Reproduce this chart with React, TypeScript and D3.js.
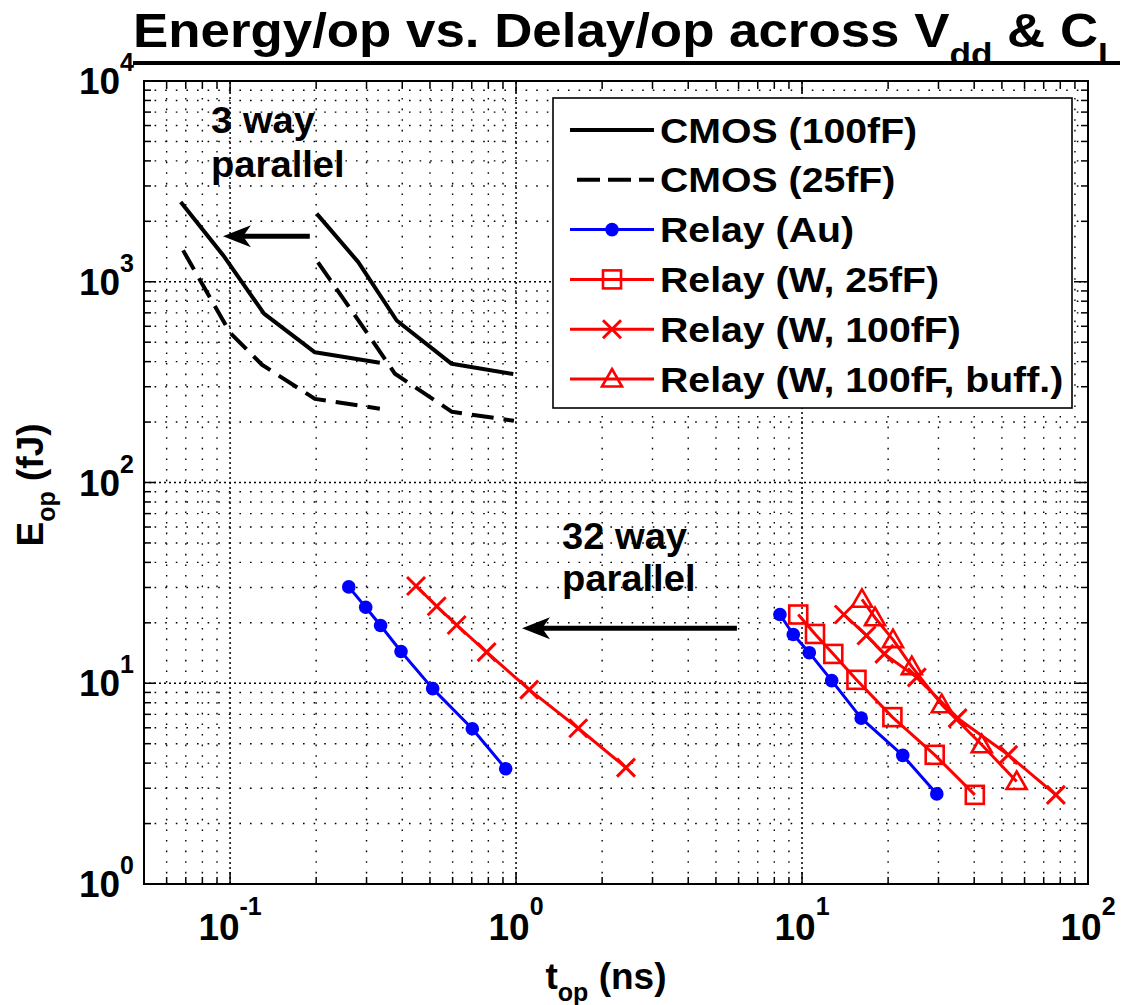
import React, { useEffect, useRef } from 'react';
import * as d3 from 'd3';

const W = 1124;
const H = 1005;
const FONT = "'Liberation Sans', Arial, Helvetica, sans-serif";

// axes
const xDomain: [number, number] = [0.05, 100];
const yDomain: [number, number] = [1, 10000];
const xMajorTicks = [0.1, 1, 10, 100];
const xTickExps = ['-1', '0', '1', '2'];
const yMajorTicks = [1, 10, 100, 1000, 10000];
const yTickExps = ['0', '1', '2', '3', '4'];

// CMOS (100fF) — 1 way and 3 way parallel
const cmos100OneWayT = [0.2008, 0.2807, 0.3825, 0.5955, 0.978];
const cmos100OneWayE = [2185, 1253, 641, 390, 347];
const cmos100ThreeWayT = [0.0672, 0.0952, 0.1314, 0.198, 0.334];
const cmos100ThreeWayE = [2497, 1338, 694, 445, 395];
// CMOS (25fF)
const cmos25OneWayT = [0.2029, 0.2845, 0.3773, 0.5968, 0.983];
const cmos25OneWayE = [1249, 626, 348, 225, 203];
const cmos25ThreeWayT = [0.0685, 0.0999, 0.1293, 0.198, 0.334];
const cmos25ThreeWayE = [1433, 558, 386, 261, 233];

// Relay (Au)
const relayAuT = [8.37, 9.32, 10.6, 12.7, 16.1, 22.5, 29.6];
const relayAuE = [22.0, 17.5, 14.2, 10.3, 6.7, 4.37, 2.81];
const relayAu32T = [0.26, 0.298, 0.336, 0.396, 0.511, 0.703, 0.92];
const relayAu32E = [30.2, 23.9, 19.4, 14.4, 9.4, 5.93, 3.75];
// Relay (W, 25fF)
const relayW25T = [9.7, 11.1, 12.86, 15.5, 20.7, 29.1, 40.2];
const relayW25E = [22.0, 17.6, 14.0, 10.4, 6.78, 4.4, 2.78];
// Relay (W, 100fF)
const relayW100T = [14.0, 16.8, 19.4, 25.2, 35.0, 52.6, 77.2];
const relayW100E = [22.0, 17.3, 14.0, 10.7, 6.7, 4.4, 2.78];
const relayW100x32T = [0.447, 0.528, 0.62, 0.789, 1.112, 1.65, 2.423];
const relayW100x32E = [30.5, 24.2, 19.5, 14.3, 9.29, 5.97, 3.8];
// Relay (W, 100fF, buff.)
const relayWbufT = [16.2, 18.0, 20.8, 24.2, 30.8, 42.5, 56.3];
const relayWbufE = [26.2, 21.2, 16.5, 12.1, 7.82, 4.94, 3.24];

// legend
const legendLabels = [
  'CMOS (100fF)',
  'CMOS (25fF)',
  'Relay (Au)',
  'Relay (W, 25fF)',
  'Relay (W, 100fF)',
  'Relay (W, 100fF, buff.)',
];

// annotations (data coords)
const annot3Lines = ['3 way', 'parallel'];
const annot3X = 0.0858;
const annot3Y = [5500, 3317];
const annot32Lines = ['32 way', 'parallel'];
const annot32X = 1.447;
const annot32Y = [46.6, 28.8];
const arrow3 = { t0: 0.19, t1: 0.0944, e: 1683 };
const arrow32 = { t0: 5.92, t1: 1.049, e: 18.8 };

type Style = { color: string; width: number; dash?: string; marker?: string };

export default function App() {
  const ref = useRef<SVGSVGElement>(null);

  useEffect(() => {
    const svg = d3.select(ref.current!);
    svg.selectAll('*').remove();

    const X0 = 144, X1 = 1088, Y0 = 884, Y1 = 81;
    const x = d3.scaleLog().domain(xDomain).range([X0, X1]);
    const y = d3.scaleLog().domain(yDomain).range([Y0, Y1]);

    svg.append('rect').attr('width', W).attr('height', H).attr('fill', '#fff');

    // minor & major values
    const xMinor: number[] = [];
    for (const dec of [0.01, 0.1, 1, 10]) for (let k = 2; k <= 9; k++) {
      const v = k * dec;
      if (v > 0.05 + 1e-9 && v < 100) xMinor.push(v);
    }
    const yMinor: number[] = [];
    for (const dec of [1, 10, 100, 1000]) for (let k = 2; k <= 9; k++) yMinor.push(k * dec);
    const xMajorIn = [0.1, 1, 10];
    const yMajorIn = [10, 100, 1000];

    const grid = svg.append('g').attr('stroke', '#000').attr('fill', 'none');
    grid.selectAll('line.xm').data(xMinor).join('line')
      .attr('x1', d => x(d)).attr('x2', d => x(d)).attr('y1', Y0).attr('y2', Y1)
      .attr('stroke-width', 1.4).attr('stroke-dasharray', '1.6,9');
    grid.selectAll('line.ym').data(yMinor).join('line')
      .attr('y1', d => y(d)).attr('y2', d => y(d)).attr('x1', X0).attr('x2', X1)
      .attr('stroke-width', 1.4).attr('stroke-dasharray', '1.6,9');
    grid.selectAll('line.xM').data(xMajorIn).join('line')
      .attr('x1', d => x(d)).attr('x2', d => x(d)).attr('y1', Y0).attr('y2', Y1)
      .attr('stroke-width', 1.5).attr('stroke-dasharray', '2,3');
    grid.selectAll('line.yM').data(yMajorIn).join('line')
      .attr('y1', d => y(d)).attr('y2', d => y(d)).attr('x1', X0).attr('x2', X1)
      .attr('stroke-width', 1.5).attr('stroke-dasharray', '2,3');

    // ticks (inward, all four sides)
    const ticks = svg.append('g').attr('stroke', '#000').attr('stroke-width', 1.5);
    const tickSets: [number[], number][] = [[xMinor, 7], [xMajorIn, 12]];
    for (const [vals, len] of tickSets) {
      vals.forEach(v => {
        ticks.append('line').attr('x1', x(v)).attr('x2', x(v)).attr('y1', Y0).attr('y2', Y0 - len);
        ticks.append('line').attr('x1', x(v)).attr('x2', x(v)).attr('y1', Y1).attr('y2', Y1 + len);
      });
    }
    const yTickSets: [number[], number][] = [[yMinor, 7], [yMajorIn, 12]];
    for (const [vals, len] of yTickSets) {
      vals.forEach(v => {
        ticks.append('line').attr('y1', y(v)).attr('y2', y(v)).attr('x1', X0).attr('x2', X0 + len);
        ticks.append('line').attr('y1', y(v)).attr('y2', y(v)).attr('x1', X1).attr('x2', X1 - len);
      });
    }

    // annotations text (slightly widened like the original bitmap font)
    const annot = svg.append('g').attr('font-family', FONT).attr('font-weight', 'bold')
      .attr('font-size', 36).attr('fill', '#000');
    const putText = (px: number, py: number, s: string) =>
      annot.append('text').attr('transform', `translate(${px},${py}) scale(1.06,1)`).text(s);
    annot3Lines.forEach((s, i) => putText(x(annot3X), y(annot3Y[i]), s));
    annot32Lines.forEach((s, i) => putText(x(annot32X), y(annot32Y[i]), s));

    // arrows
    const drawArrow = (a: { t0: number; t1: number; e: number }) => {
      const xt = x(a.t0), xh = x(a.t1), yy = y(a.e);
      const L = 28, hw = 11;
      svg.append('line').attr('x1', xt).attr('x2', xh + L * 0.6).attr('y1', yy).attr('y2', yy)
        .attr('stroke', '#000').attr('stroke-width', 5);
      svg.append('path')
        .attr('d', `M${xh},${yy} L${xh + L},${yy - hw} L${xh + L * 0.72},${yy} L${xh + L},${yy + hw} Z`)
        .attr('fill', '#000');
    };
    drawArrow(arrow3);
    drawArrow(arrow32);

    // series
    const line = d3.line<[number, number]>().x(d => x(d[0])).y(d => y(d[1]));
    const zip = (t: number[], e: number[]) => t.map((v, i) => [v, e[i]] as [number, number]);

    const cmosSolid: Style = { color: '#000', width: 4 };
    const cmosDash: Style = { color: '#000', width: 4, dash: '22,10' };
    const blue: Style = { color: '#0000ff', width: 3, marker: 'circle' };
    const redSq: Style = { color: '#ff0000', width: 3, marker: 'square' };
    const redX: Style = { color: '#ff0000', width: 3, marker: 'x' };
    const redTri: Style = { color: '#ff0000', width: 3, marker: 'triangle' };

    const drawMarker = (g: any, px: number, py: number, st: Style) => {
      if (st.marker === 'circle') {
        g.append('circle').attr('cx', px).attr('cy', py).attr('r', 6.8).attr('fill', st.color);
      } else if (st.marker === 'square') {
        const s = 9;
        g.append('rect').attr('x', px - s).attr('y', py - s).attr('width', 2 * s).attr('height', 2 * s)
          .attr('fill', 'none').attr('stroke', st.color).attr('stroke-width', 2.6);
      } else if (st.marker === 'x') {
        const s = 9;
        g.append('path').attr('d', `M${px - s},${py - s}L${px + s},${py + s}M${px - s},${py + s}L${px + s},${py - s}`)
          .attr('stroke', st.color).attr('stroke-width', 3).attr('fill', 'none');
      } else if (st.marker === 'triangle') {
        const s = 10;
        g.append('path').attr('d', `M${px},${py - s}L${px + s},${py + s * 0.75}L${px - s},${py + s * 0.75}Z`)
          .attr('stroke', st.color).attr('stroke-width', 2.6).attr('fill', 'none');
      }
    };

    const drawSeries = (t: number[], e: number[], st: Style) => {
      const g = svg.append('g');
      const data = zip(t, e);
      g.append('path').attr('d', line(data)).attr('fill', 'none').attr('stroke', st.color)
        .attr('stroke-width', st.width).attr('stroke-dasharray', st.dash || null)
        .attr('stroke-linejoin', 'round');
      if (st.marker) data.forEach(d => drawMarker(g, x(d[0]), y(d[1]), st));
    };

    drawSeries(cmos100OneWayT, cmos100OneWayE, cmosSolid);
    drawSeries(cmos100ThreeWayT, cmos100ThreeWayE, cmosSolid);
    drawSeries(cmos25OneWayT, cmos25OneWayE, cmosDash);
    drawSeries(cmos25ThreeWayT, cmos25ThreeWayE, cmosDash);
    drawSeries(relayAu32T, relayAu32E, blue);
    drawSeries(relayW100x32T, relayW100x32E, redX);
    drawSeries(relayAuT, relayAuE, blue);
    drawSeries(relayW25T, relayW25E, redSq);
    drawSeries(relayWbufT, relayWbufE, redTri);
    drawSeries(relayW100T, relayW100E, redX);

    // axes box
    svg.append('rect').attr('x', X0).attr('y', Y1).attr('width', X1 - X0).attr('height', Y0 - Y1)
      .attr('fill', 'none').attr('stroke', '#000').attr('stroke-width', 2);

    // legend
    const lg = svg.append('g');
    lg.append('rect').attr('x', 553).attr('y', 98).attr('width', 519).attr('height', 310)
      .attr('fill', '#fff').attr('stroke', '#000').attr('stroke-width', 1.6);
    const styles = [cmosSolid, cmosDash, blue, redSq, redX, redTri];
    legendLabels.forEach((lab, i) => {
      const cy = 130 + i * 49.8;
      const st = styles[i];
      lg.append('line').attr('x1', st.dash ? 577 : 570).attr('x2', 654).attr('y1', cy).attr('y2', cy)
        .attr('stroke', st.color).attr('stroke-width', st.width).attr('stroke-dasharray', st.dash ? '23,8' : null);
      if (st.marker) drawMarker(lg, 612, cy, st);
      lg.append('text').attr('transform', `translate(660,${cy + 12.5}) scale(1.09,1)`).attr('font-family', FONT)
        .attr('font-weight', 'bold').attr('font-size', 36).attr('fill', '#000').text(lab);
    });

    // tick labels
    const tl = svg.append('g').attr('font-family', FONT).attr('font-weight', 'bold').attr('fill', '#000');
    yMajorTicks.forEach((v, i) => {
      const t = tl.append('text').attr('x', 134).attr('y', y(v) + 13).attr('text-anchor', 'end').attr('font-size', 37);
      t.append('tspan').text('10');
      t.append('tspan').attr('font-size', 25).attr('dy', -23).text(yTickExps[i]);
    });
    xMajorTicks.forEach((v, i) => {
      const t = tl.append('text').attr('x', x(v)).attr('y', 940).attr('text-anchor', 'middle').attr('font-size', 37);
      t.append('tspan').text('10');
      t.append('tspan').attr('font-size', 25).attr('dy', -25).text(xTickExps[i]);
    });

    // axis labels
    const xl = tl.append('text').attr('x', 606).attr('y', 989).attr('text-anchor', 'middle').attr('font-size', 37);
    xl.append('tspan').text('t');
    xl.append('tspan').attr('font-size', 25).attr('dy', 12).text('op');
    xl.append('tspan').attr('dy', -12).text(' (ns)');

    const yl = tl.append('text').attr('transform', 'translate(43,485) rotate(-90)')
      .attr('text-anchor', 'middle').attr('font-size', 37);
    yl.append('tspan').text('E');
    yl.append('tspan').attr('font-size', 25).attr('dy', 12).text('op');
    yl.append('tspan').attr('dy', -12).text(' (fJ)');

    // title
    const tg = svg.append('g');
    const tt = tg.append('text').attr('x', 0).attr('y', 47).attr('font-family', FONT)
      .attr('font-weight', 'bold').attr('font-size', 48).attr('fill', '#000');
    tt.append('tspan').text('Energy/op vs. Delay/op across V');
    tt.append('tspan').attr('font-size', 32).attr('dy', 18).text('dd');
    tt.append('tspan').attr('dy', -18).text(' & C');
    tt.append('tspan').attr('font-size', 32).attr('dy', 18).text('L');
    const bb = (tt.node() as SVGTextElement).getBBox();
    const sx = (1120 - 133) / bb.width;
    tg.attr('transform', `translate(133,0) scale(${sx},1) translate(${-bb.x},0)`);
    svg.append('line').attr('x1', 133).attr('x2', 1120).attr('y1', 63).attr('y2', 63)
      .attr('stroke', '#000').attr('stroke-width', 4);
  }, []);

  return (
    <svg ref={ref} width={W} height={H}
      style={{ position: 'absolute', left: 0, top: 0, display: 'block', background: '#fff' }} />
  );
}
